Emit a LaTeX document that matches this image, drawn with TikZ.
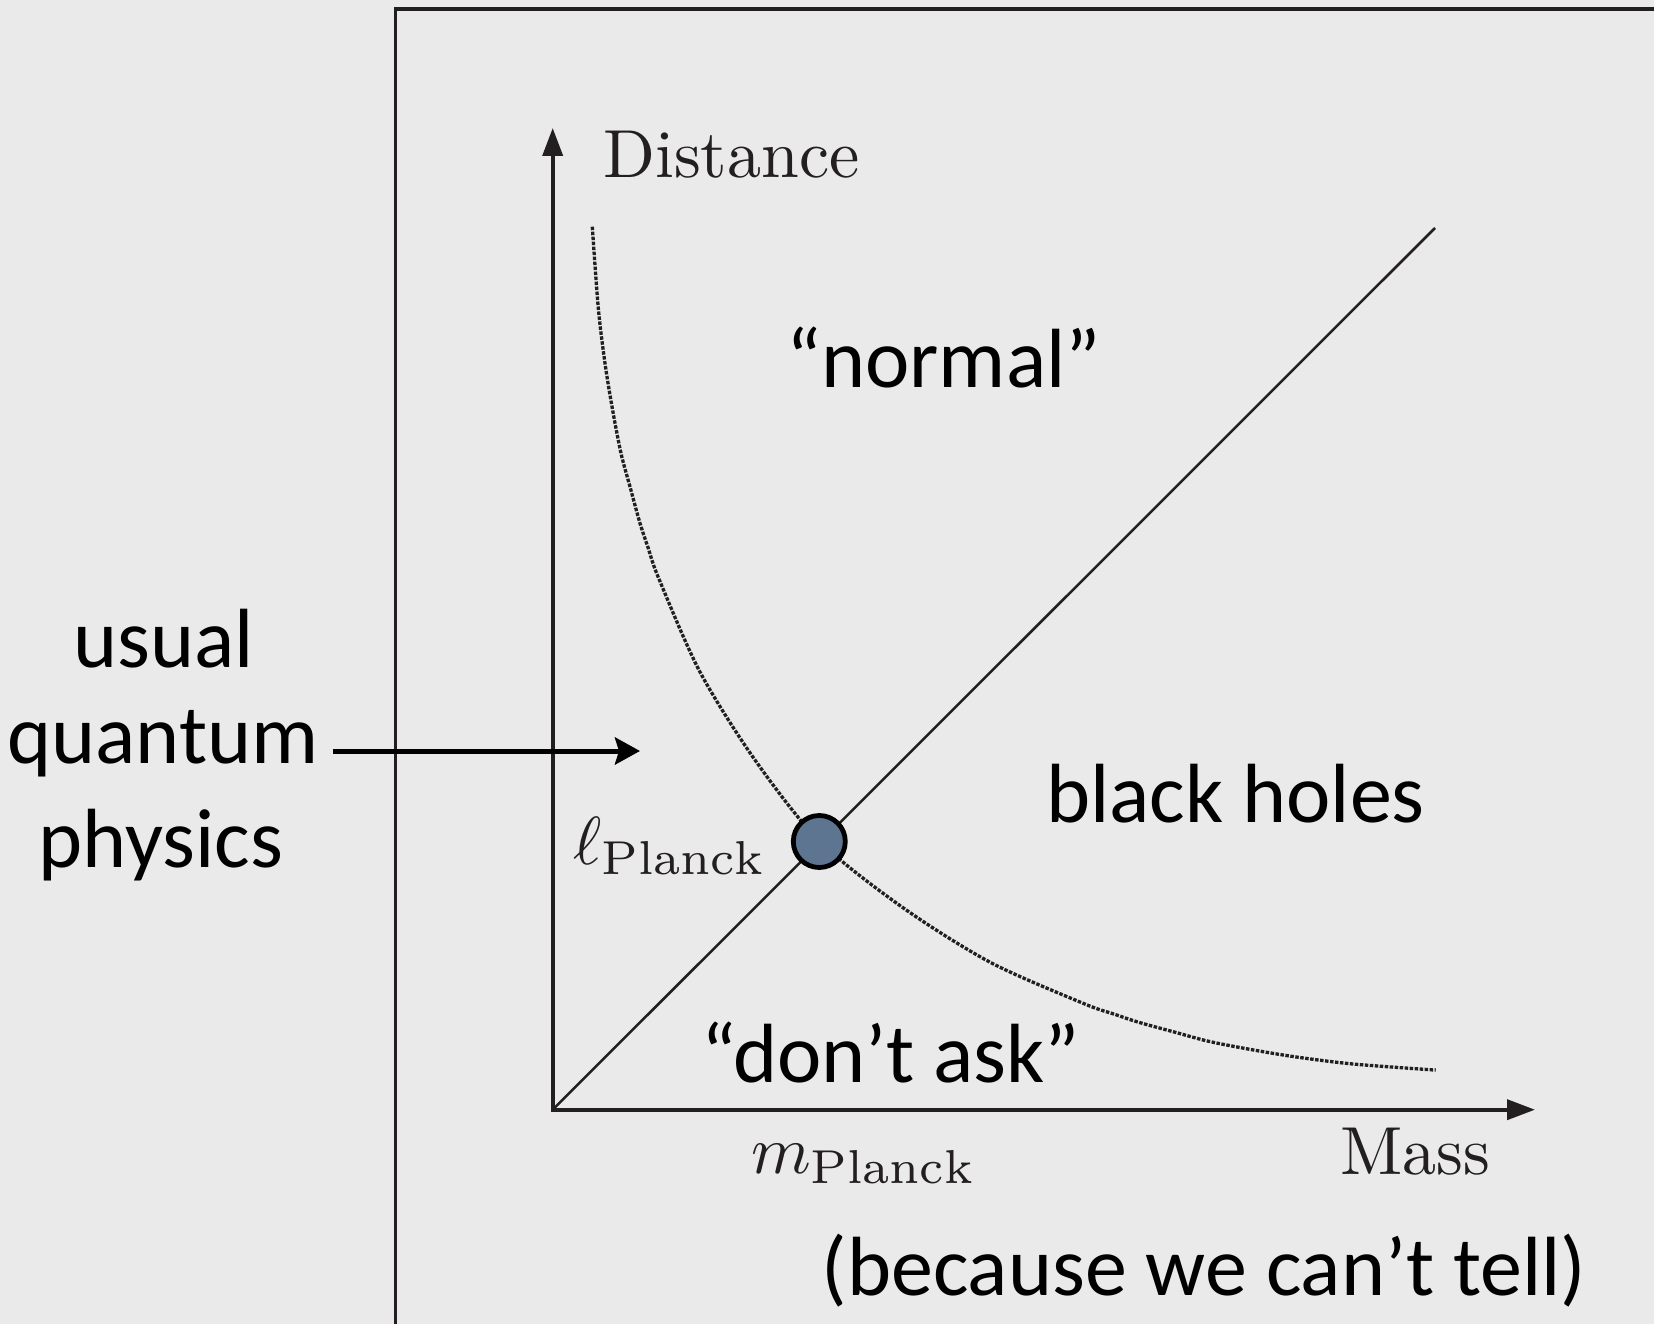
\documentclass[tikz,border=0pt]{standalone}
\usepackage{graphicx}
\usepackage{fontspec}
\usetikzlibrary{arrows.meta}
\newfontfamily\gillfont{Carlito}
\newfontfamily\lmten{lmroman10-regular.otf}
\definecolor{bgc}{RGB}{234,234,234}
\definecolor{ink}{RGB}{35,31,32}
\definecolor{dotc}{RGB}{94,117,146}
\tikzset{
  lmtext/.style={font=\lmten\fontsize{68}{80}\selectfont, text=ink, inner sep=0pt, anchor=base west},
  mathtext/.style={font=\fontsize{10}{12}\selectfont, text=ink, inner sep=0pt, anchor=base west},
  sanstext/.style={font=\gillfont\fontsize{84}{100}\selectfont, text=black, inner sep=0pt, anchor=base},
  axisline/.style={draw=ink, line width=3.8pt, {Triangle[length=28pt,width=20pt]}-{Triangle[length=28pt,width=20pt]}},
  diagline/.style={draw=ink, line width=2.5pt},
  curveline/.style={draw=ink, line width=3.3pt, dash pattern=on 3.5pt off 1.5pt},
  pointer/.style={draw=black, line width=5pt, -{Stealth[length=25pt,width=27pt,inset=4pt]}},
  boxline/.style={draw=ink, line width=3.8pt},
  planckdot/.style={circle, draw=black, line width=4.8pt, fill=dotc, minimum size=52pt, inner sep=0pt}
}
\begin{document}
\begin{tikzpicture}[x=1pt,y=-1pt]
\useasboundingbox (0,0) rectangle (1654,1324);
\fill[bgc] (0,0) rectangle (1654,1324);
% frame
\draw[boxline] (395.5,1335) -- (395.5,9) -- (1665,9);
% axes
\coordinate (O) at (552.7,1109.7);
\coordinate (ytip) at (552.7,128);
\coordinate (xtip) at (1535,1109.7);
\coordinate (dend) at (1435,228);
\draw[axisline] (ytip) -- (O) -- (xtip);
% diagonal
\draw[diagline] (O) -- (dend);
% curve
\draw[curveline] plot[smooth, tension=0.5] coordinates {(592.3,226.7) (598.3,308.3) (605,363.3) (612.3,408.3) (621,453.3) (630,486.7) (640,523.3) (648.3,548.3) (658.7,578.3) (700,672) (755,760) (819.3,841) (902.4,907.3) (990.4,962.4) (1084.1,1003.7) (1114.1,1014.1) (1139.1,1022.4) (1175.7,1032.4) (1209.1,1041.4) (1254.1,1050.1) (1299.1,1057.4) (1354.1,1064.1) (1435.7,1070.1)};
% Planck point
\node[planckdot] (pl) at (819.3,841.5) {};
% labels
\node[lmtext] (dist) at (603,178) {Distance};
\node[lmtext] (mass) at (1340,1174) {Mass};
\node[mathtext] (lp) at (573,864) {\scalebox{6.8}{$\ell_{\mathrm{Planck}}$}};
\node[mathtext] (mp) at (751,1173) {\scalebox{6.8}{$m_{\mathrm{Planck}}$}};
\node[sanstext] (normal) at (943.5,387) {“normal”};
\node[sanstext] (bh) at (1235.5,822) {black holes};
\node[sanstext] (dont) at (891,1082) {“don’t ask”};
\node[sanstext] (because) at (1204,1295) {(because we can’t tell)};
\node[sanstext] (usual) at (163.5,667) {usual};
\node[sanstext] (quantum) at (163,763) {quantum};
\node[sanstext] (physics) at (161,867) {physics};
\coordinate (qtip) at (640,751);
\coordinate (qstart) at ([xshift=14pt]quantum.east);
\draw[pointer] (qstart |- qtip) -- (qtip);
\end{tikzpicture}
\end{document}
